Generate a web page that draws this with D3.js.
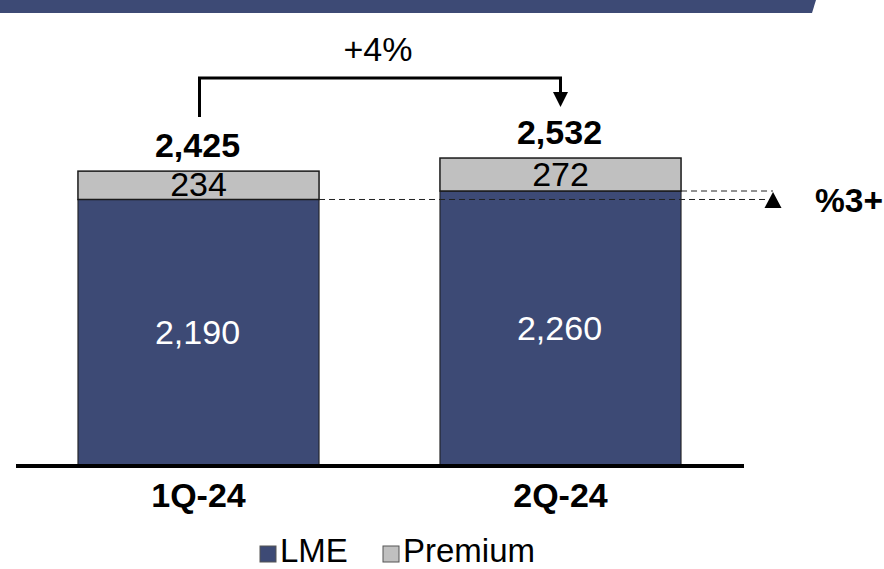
<!DOCTYPE html>
<html>
<head>
<meta charset="utf-8">
<script src="https://cdn.jsdelivr.net/npm/d3@7"></script>
<style>
  html, body { margin: 0; padding: 0; background: #fff; }
  svg { display: block; font-family: "Liberation Sans", Arial, sans-serif; }
</style>
</head>
<body>
<svg id="chart" width="884" height="569"></svg>
<script>
const categories = ["1Q-24", "2Q-24"];
const lmeValues = [2190, 2260];
const premiumValues = [234, 272];
const totalValues = [2425, 2532];
const totalLabels = ["2,425", "2,532"];
const lmeLabels = ["2,190", "2,260"];
const premiumLabels = ["234", "272"];
const growthLabel = "+4%";
const lmeGrowthLabel = "%3+";
const seriesNames = ["LME", "Premium"];

const colors = { LME: "#3d4a75", Premium: "#c0c0c0", band: "#3d4a75" };

const svg = d3.select("#chart");

// top banner
svg.append("path")
  .attr("d", "M0,0 L816,0 L812,13 L0,13 Z")
  .attr("fill", colors.band);

const x = d3.scaleBand().domain(categories).range([17.5, 741.5])
  .paddingInner(0.334).paddingOuter(0.167);
const y = d3.scaleLinear().domain([0, 2425]).range([465, 171]);

const data = categories.map((c, i) => ({
  cat: c, lme: lmeValues[i], prem: premiumValues[i], total: totalValues[i],
  tl: totalLabels[i], ll: lmeLabels[i], pl: premiumLabels[i]
}));

const g = svg.append("g");

// LME segments
g.selectAll("rect.lme").data(data).enter().append("rect")
  .attr("class", "lme")
  .attr("x", d => x(d.cat))
  .attr("width", x.bandwidth())
  .attr("y", d => y(d.lme))
  .attr("height", d => y(0) - y(d.lme))
  .attr("fill", colors.LME)
  .attr("stroke", "#1a1a1a").attr("stroke-width", 1);

// Premium segments
g.selectAll("rect.prem").data(data).enter().append("rect")
  .attr("class", "prem")
  .attr("x", d => x(d.cat))
  .attr("width", x.bandwidth())
  .attr("y", d => y(d.lme + d.prem))
  .attr("height", d => y(d.lme) - y(d.lme + d.prem))
  .attr("fill", colors.Premium)
  .attr("stroke", "#1a1a1a").attr("stroke-width", 1.5);

// dashed reference lines
const xEnd = 773;
const x0r = x(categories[0]) + x.bandwidth();
const x1r = x(categories[1]) + x.bandwidth();
g.append("line")
  .attr("x1", x0r).attr("x2", xEnd)
  .attr("y1", y(lmeValues[0])).attr("y2", y(lmeValues[0]))
  .attr("stroke", "#222").attr("stroke-width", 1).attr("stroke-dasharray", "6,4");
g.append("line")
  .attr("x1", x1r).attr("x2", xEnd)
  .attr("y1", y(lmeValues[1])).attr("y2", y(lmeValues[1]))
  .attr("stroke", "#222").attr("stroke-width", 1).attr("stroke-dasharray", "6,4");

// triangle
const ty = y(lmeValues[1]);
g.append("path")
  .attr("d", `M${xEnd},${ty + 1} L${xEnd + 8.5},${ty + 17} L${xEnd - 8.5},${ty + 17} Z`)
  .attr("fill", "#000");
g.append("text")
  .attr("x", 815).attr("y", 212)
  .attr("font-size", 33.5).attr("font-weight", "bold")
  .attr("fill", "#000")
  .text(lmeGrowthLabel);

// segment labels
g.selectAll("text.ll").data(data).enter().append("text")
  .attr("x", d => x(d.cat) + x.bandwidth() / 2 - 1)
  .attr("y", d => (y(d.lme) + y(0)) / 2 + 12)
  .attr("text-anchor", "middle")
  .attr("font-size", 34).attr("fill", "#fff")
  .text(d => d.ll);

g.selectAll("text.pl").data(data).enter().append("text")
  .attr("x", d => x(d.cat) + x.bandwidth() / 2)
  .attr("y", d => (y(d.lme) + y(d.lme + d.prem)) / 2 + 11)
  .attr("text-anchor", "middle")
  .attr("font-size", 34).attr("fill", "#000")
  .text(d => d.pl);

// totals
g.selectAll("text.tl").data(data).enter().append("text")
  .attr("x", d => x(d.cat) + x.bandwidth() / 2 - 1)
  .attr("y", d => y(d.total) - 14)
  .attr("text-anchor", "middle")
  .attr("font-size", 34).attr("font-weight", "bold").attr("fill", "#000")
  .text(d => d.tl);

// baseline
g.append("line")
  .attr("x1", 16).attr("x2", 744)
  .attr("y1", 466).attr("y2", 466)
  .attr("stroke", "#000").attr("stroke-width", 4);

// category axis labels
const xAxis = d3.axisBottom(x).tickSize(0).tickPadding(0);
const ax = svg.append("g").attr("transform", "translate(0,507)").call(xAxis);
ax.select(".domain").remove();
ax.selectAll("text")
  .attr("dy", 0)
  .attr("font-size", 34).attr("font-weight", "bold")
  .attr("font-family", "Liberation Sans, Arial, sans-serif")
  .attr("fill", "#000");

// growth bracket
const cx0 = x(categories[0]) + x.bandwidth() / 2 + 1;
const cx1 = x(categories[1]) + x.bandwidth() / 2;
const by = 78;
g.append("path")
  .attr("d", `M${cx0},117 L${cx0},${by} L${cx1},${by} L${cx1},94`)
  .attr("fill", "none").attr("stroke", "#000").attr("stroke-width", 3);
g.append("path")
  .attr("d", `M${cx1 - 7.5},92 L${cx1 + 7.5},92 L${cx1},107 Z`)
  .attr("fill", "#000");
g.append("text")
  .attr("x", (cx0 + cx1) / 2 - 2).attr("y", 61)
  .attr("text-anchor", "middle")
  .attr("font-size", 34).attr("fill", "#000")
  .text(growthLabel);

// legend
const legend = svg.append("g");
const legendItems = [
  { name: seriesNames[0], color: colors.LME, sx: 260, tx: 280 },
  { name: seriesNames[1], color: colors.Premium, sx: 383, tx: 403 }
];
legendItems.forEach(it => {
  legend.append("rect")
    .attr("x", it.sx).attr("y", 546).attr("width", 16).attr("height", 16)
    .attr("fill", it.color).attr("stroke", "#555").attr("stroke-width", 1);
  legend.append("text")
    .attr("x", it.tx).attr("y", 562)
    .attr("font-size", 33).attr("fill", "#000")
    .text(it.name);
});
</script>
</body>
</html>
